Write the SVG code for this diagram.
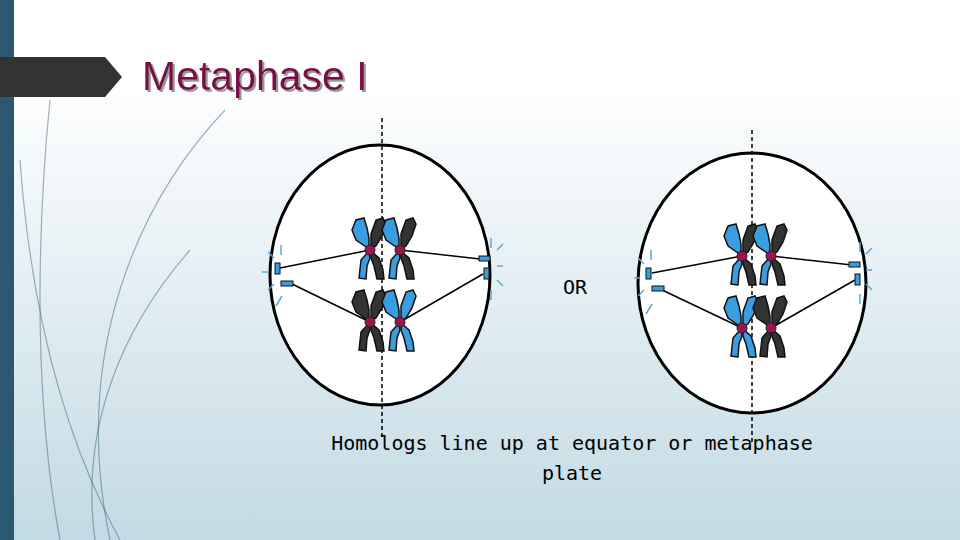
<svg xmlns="http://www.w3.org/2000/svg" width="960" height="540" viewBox="0 0 960 540">
<defs>
<linearGradient id="bg" x1="0" y1="0" x2="0" y2="1"><stop offset="0.15" stop-color="#ffffff"/><stop offset="1" stop-color="#c2dae4"/></linearGradient>
<filter id="sh" x="-5%" y="-20%" width="110%" height="140%"><feDropShadow dx="2" dy="2" stdDeviation="0.5" flood-color="#999"/></filter>
<style>
.b{fill:#3a9de0;stroke:#111;stroke-width:1.5}
.d{fill:#333;stroke:#111;stroke-width:1.5}
.cm{fill:#9b1450;stroke:#222;stroke-width:1}
.cell{fill:#fff;stroke:#000;stroke-width:3}
.eq{stroke:#000;stroke-width:1.5;stroke-dasharray:4,3}
.sp{stroke:#000;stroke-width:1.5}
.ct{fill:#3a9de0;stroke:#111;stroke-width:1}
.as{stroke:#5aa6d6;stroke-width:1.5}
.sw{fill:none;stroke:#2b5870;stroke-width:1.2;opacity:0.45}
</style>
<path id="ul" d="M-1,-1 L-14,-10 L-18,-20 L-14,-30 L-6,-32 L-3,-22 L-1,-12 Z"/>
<path id="ur" d="M1,-1 L1,-16 L6,-30 L13,-32 L16,-26 L12,-14 L6,-4 Z"/>
<path id="ll" d="M-1,1 L-9,10 L-11,28 L-4,29 L-3,16 L0,8 Z"/>
<path id="lr" d="M1,1 L9,8 L13,20 L14,29 L7,29 L4,16 L1,8 Z"/>
</defs>
<rect width="960" height="540" fill="url(#bg)"/>
<rect x="0" y="0" width="14" height="540" fill="#2b5870"/>
<path class="sw" d="M50,100 C40,200 30,380 60,540"/>
<path class="sw" d="M225,110 C140,200 70,350 110,540" opacity="0.2"/>
<path class="sw" d="M190,250 C120,330 80,430 95,540"/>
<path class="sw" d="M20,160 C30,300 60,430 120,540" opacity="0.25"/>
<path d="M0,57 L105,57 L122,77 L105,97 L0,97 Z" fill="#333"/>
<text x="142" y="90" font-family="Liberation Sans, Arial, sans-serif" font-size="41" fill="#7a0a45" filter="url(#sh)">Metaphase I</text>
<g id="cell1">
<ellipse class="cell" cx="380" cy="275" rx="110" ry="130"/>
</g>
<g id="cell2">
<ellipse class="cell" cx="752" cy="283" rx="114" ry="130"/>
</g>
<g id="connectors">
<line class="eq" x1="382" y1="118" x2="382" y2="440"/>
<line class="eq" x1="752" y1="130" x2="752" y2="445"/>
<line class="sp" x1="280" y1="268" x2="370" y2="250"/>
<line class="sp" x1="290" y1="283" x2="370" y2="322"/>
<line class="sp" x1="480" y1="259" x2="400" y2="250"/>
<line class="sp" x1="483" y1="274" x2="400" y2="322"/>
<line class="sp" x1="652" y1="273" x2="742" y2="256"/>
<line class="sp" x1="660" y1="289" x2="742" y2="328"/>
<line class="sp" x1="852" y1="265" x2="771" y2="256"/>
<line class="sp" x1="855" y1="280" x2="771" y2="328"/>
</g>
<g id="centrioles">
<rect class="ct" x="275" y="263" width="5" height="11"/><rect class="ct" x="281" y="281" width="12" height="5"/>
<rect class="ct" x="479" y="256" width="11" height="5"/><rect class="ct" x="484" y="268" width="5" height="11"/>
<rect class="ct" x="646" y="268" width="5" height="11"/><rect class="ct" x="652" y="286" width="12" height="5"/>
<rect class="ct" x="849" y="262" width="11" height="5"/><rect class="ct" x="855" y="274" width="5" height="11"/>
<g class="as">
<line x1="281" y1="245" x2="281" y2="255"/><line x1="268" y1="252" x2="274" y2="258"/><line x1="262" y1="272" x2="268" y2="272"/><line x1="268" y1="290" x2="274" y2="284"/><line x1="276" y1="306" x2="282" y2="296"/>
<line x1="491" y1="238" x2="491" y2="248"/><line x1="497" y1="250" x2="503" y2="244"/><line x1="497" y1="266" x2="503" y2="266"/><line x1="497" y1="280" x2="503" y2="286"/><line x1="491" y1="290" x2="491" y2="300"/>
<line x1="651" y1="250" x2="651" y2="260"/><line x1="638" y1="258" x2="644" y2="264"/><line x1="634" y1="278" x2="640" y2="278"/><line x1="638" y1="296" x2="644" y2="290"/><line x1="646" y1="314" x2="652" y2="304"/>
<line x1="860" y1="242" x2="860" y2="252"/><line x1="866" y1="254" x2="872" y2="248"/><line x1="866" y1="270" x2="872" y2="270"/><line x1="866" y1="284" x2="872" y2="290"/><line x1="860" y1="294" x2="860" y2="304"/>
</g>
</g>
<g id="chromosomes">
<g transform="translate(370,250)"><use href="#ul" class="b"/><use href="#ur" class="d"/><use href="#ll" class="b"/><use href="#lr" class="d"/><circle class="cm" r="5"/></g>
<g transform="translate(400,250)"><use href="#ul" class="b"/><use href="#ur" class="d"/><use href="#ll" class="b"/><use href="#lr" class="d"/><circle class="cm" r="5"/></g>
<g transform="translate(370,322)"><use href="#ul" class="d"/><use href="#ur" class="d"/><use href="#ll" class="d"/><use href="#lr" class="d"/><circle class="cm" r="5"/></g>
<g transform="translate(400,322)"><use href="#ul" class="b"/><use href="#ur" class="b"/><use href="#ll" class="b"/><use href="#lr" class="b"/><circle class="cm" r="5"/></g>
<g transform="translate(742,256)"><use href="#ul" class="b"/><use href="#ur" class="d"/><use href="#ll" class="b"/><use href="#lr" class="d"/><circle class="cm" r="5"/></g>
<g transform="translate(771,256)"><use href="#ul" class="b"/><use href="#ur" class="d"/><use href="#ll" class="b"/><use href="#lr" class="d"/><circle class="cm" r="5"/></g>
<g transform="translate(742,328)"><use href="#ul" class="b"/><use href="#ur" class="b"/><use href="#ll" class="b"/><use href="#lr" class="b"/><circle class="cm" r="5"/></g>
<g transform="translate(771,328)"><use href="#ul" class="d"/><use href="#ur" class="d"/><use href="#ll" class="d"/><use href="#lr" class="d"/><circle class="cm" r="5"/></g>
</g>
<g font-family="DejaVu Sans Mono, monospace" font-size="20" fill="#000" text-anchor="middle">
<text x="575" y="294">OR</text>
<text x="572" y="450">Homologs line up at equator or metaphase</text>
<text x="572" y="480">plate</text>
</g>
</svg>
